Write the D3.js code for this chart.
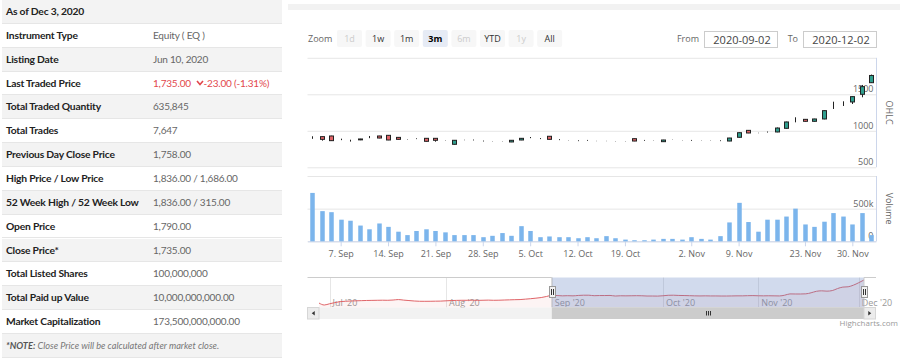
<!DOCTYPE html>
<html>
<head>
<meta charset="utf-8">
<script src="https://cdn.jsdelivr.net/npm/d3@7"></script>
<style>
  body { margin: 0; width: 900px; height: 362px; overflow: hidden; background: #fff; position: relative; }
  #info { position: absolute; left: 2px; top: 0; width: 280px; height: 358px; font-family: Lato, sans-serif; }
  #info .row { position: absolute; left: 0; width: 280px; height: 23.85px; line-height: 23.85px; border-bottom: 1px solid #e6e6e6; box-sizing: border-box; }
  #info .row.alt { background: #f3f3f3; }
  #info .lbl { position: absolute; left: 4px; font-weight: 700; font-size: 10.3px; letter-spacing: -0.2px; color: #222; white-space: nowrap; }
  #info .val { position: absolute; left: 151px; font-size: 10px; letter-spacing: -0.2px; color: #666; white-space: nowrap; }
  #info .neg { color: #e2474c; }
  #info .note { position: absolute; left: 4px; font-style: italic; font-size: 9.2px; color: #777; white-space: nowrap; }
  #info .note b { color: #555; }
  #chart { position: absolute; left: 0; top: 0; }
</style>
</head>
<body>
<div id="info"></div>
<svg id="chart" width="900" height="362"></svg>
<script>
// ---- info table ----
const infoLabels = ['As of Dec 3, 2020', 'Instrument Type', 'Listing Date', 'Last Traded Price',
  'Total Traded Quantity', 'Total Trades', 'Previous Day Close Price', 'High Price / Low Price',
  '52 Week High / 52 Week Low', 'Open Price', 'Close Price*', 'Total Listed Shares',
  'Total Paid up Value', 'Market Capitalization']
const infoValues = ['', 'Equity ( EQ )', 'Jun 10, 2020', '1,735.00', '635,845', '7,647', '1,758.00',
  '1,836.00 / 1,686.00', '1,836.00 / 315.00', '1,790.00', '1,735.00', '100,000,000',
  '10,000,000,000.00', '173,500,000,000.00']
const ltpChange = '-23.00 (-1.31%)'
const noteHead = '*NOTE:'
const noteText = ' Close Price will be calculated after market close.'

// ---- trading days shown in the main chart (Sep 2 – Dec 2, 2020) ----
const tradeDates = ['2020-09-02','2020-09-03','2020-09-06','2020-09-07','2020-09-08','2020-09-09','2020-09-10',
  '2020-09-13','2020-09-14','2020-09-15','2020-09-16','2020-09-17','2020-09-20','2020-09-21','2020-09-22',
  '2020-09-23','2020-09-24','2020-09-27','2020-09-28','2020-09-29','2020-09-30','2020-10-01','2020-10-04',
  '2020-10-05','2020-10-06','2020-10-07','2020-10-08','2020-10-11','2020-10-12','2020-10-13','2020-10-14',
  '2020-10-15','2020-10-18','2020-10-19','2020-10-20','2020-10-21','2020-10-22','2020-10-28','2020-10-29',
  '2020-11-01','2020-11-02','2020-11-03','2020-11-04','2020-11-05','2020-11-08','2020-11-09','2020-11-10',
  '2020-11-11','2020-11-12','2020-11-18','2020-11-19','2020-11-22','2020-11-23','2020-11-24','2020-11-25',
  '2020-11-26','2020-11-29','2020-11-30','2020-12-01','2020-12-02']
const opens  = [893,920,929,874,865,876,901,929,938,910,883,888,897,897,865,815,874,870,856,856,
  851,847,874,901,888,925,874,865,860,865,860,860,856,856,892,865,865,851,879,870,
  865,870,865,860,860,911,1006,970,979,984,1034,1148,1157,1130,1162,1358,1376,1395,1500,1659]
const highs  = [925,922,932,892,878,890,929,931,940,912,886,897,899,899,867,872,877,880,866,858,
  853,872,899,915,900,927,885,867,870,875,862,862,858,858,894,875,867,876,881,872,
  875,872,867,870,903,978,1009,973,990,1045,1125,1185,1160,1165,1280,1399,1404,1470,1628,1770]
const lows   = [890,865,862,872,852,872,899,898,872,880,880,886,853,851,862,812,871,868,854,854,
  849,845,872,899,886,881,872,863,858,863,858,858,854,854,858,863,863,849,877,868,
  863,868,863,858,858,908,968,967,976,980,1030,1116,1127,1127,1158,1299,1340,1367,1459,1655]
const closes = [893,883,865,874,865,888,901,901,874,883,883,888,856,870,865,870,874,870,856,856,
  851,870,897,901,888,883,874,865,860,865,860,860,856,856,860,865,865,874,879,870,
  865,870,865,860,901,974,970,970,979,1038,1121,1148,1130,1162,1276,1358,1376,1468,1605,1758]
const volumes = [741000,462000,446000,331000,315000,241000,184000,273000,221000,147000,
  95000,158000,184000,158000,137000,95000,95000,95000,63000,84000,
  126000,84000,232000,158000,63000,74000,63000,63000,47000,63000,
  47000,79000,47000,26000,16000,16000,26000,37000,37000,26000,
  63000,37000,26000,79000,289000,589000,295000,147000,331000,331000,
  379000,500000,258000,221000,300000,432000,379000,258000,432000,95000]

// ---- earlier closes, only seen in the navigator ----
const navPreDates = ['2020-06-29','2020-06-30','2020-07-01','2020-07-02','2020-07-05','2020-07-06','2020-07-07',
  '2020-07-08','2020-07-09','2020-07-12','2020-07-13','2020-07-14','2020-07-15','2020-07-16','2020-07-19',
  '2020-07-20','2020-07-21','2020-07-22','2020-07-23','2020-07-26','2020-07-27','2020-07-28','2020-07-29',
  '2020-07-30','2020-08-02','2020-08-05','2020-08-06','2020-08-09','2020-08-10','2020-08-11','2020-08-12',
  '2020-08-13','2020-08-16','2020-08-17','2020-08-18','2020-08-19','2020-08-20','2020-08-23','2020-08-24',
  '2020-08-25','2020-08-26','2020-08-27','2020-08-30','2020-08-31']
const navPreCloses = [461,350,420,484,541,560,576,585,595,605,610,615,620,615,630,656,625,600,575,560,
  558,560,565,570,585,600,610,615,615,620,612,618,625,615,620,630,640,650,656,680,705,735,770,830]

const priceTicks  = [500, 1000, 1500, 2000]
const volumeTicks = [0, 500000, 1000000]
const zoomButtons = ['1d', '1w', '1m', '3m', '6m', 'YTD', '1y', 'All']
const disabledButtons = ['1d', '6m', '1y']
const selectedButton = '3m'
const rangeFrom = '2020-09-02'
const rangeTo   = '2020-12-02'

const UP = '#2f9e8e', DOWN = '#e06468', VOL = '#7cb5ec', GRID = '#e6e6e6', AXIS = '#ccd6eb'
const FONT = "'Open Sans', sans-serif"

// ---- table ----
const info = d3.select('#info')
const rowH = 23.85
const allRows = infoLabels.concat(['note'])
const row = info.selectAll('div.row').data(allRows).join('div')
  .attr('class', 'row')
  .classed('alt', (d, i) => i % 2 === 0)
  .style('top', (d, i) => i * rowH + 'px')

row.filter((d, i) => i < infoLabels.length).append('span').attr('class', 'lbl').text(d => d)
row.filter((d, i) => i > 0 && i < infoLabels.length && i !== 3)
  .append('span').attr('class', 'val').text(d => infoValues[infoLabels.indexOf(d)])

const ltp = row.filter((d, i) => i === 3).append('span').attr('class', 'val neg')
ltp.append('span').text(infoValues[3] + '\u00a0\u00a0')
ltp.append('svg').attr('width', 8).attr('height', 6).style('vertical-align', '1px')
  .append('path').attr('d', 'M1,1 L4,4.5 L7,1').attr('fill', 'none').attr('stroke', '#e2474c').attr('stroke-width', 1.6)
ltp.append('span').text(ltpChange)

const note = row.filter((d, i) => i === infoLabels.length).append('span').attr('class', 'note')
note.append('b').text(noteHead)
note.append('span').text(noteText)

// ---- chart ----
const svg = d3.select('#chart').attr('font-family', FONT)
const parse = d3.timeParse('%Y-%m-%d')
const days = tradeDates.map(parse)
const fmtWeek = d3.timeFormat('%-d. %b')
const fmtMonth = d3.timeFormat("%b '%y")

const plotL = 307.5, plotR = 876
const x = d3.scaleLinear().domain([-0.5, days.length - 0.5]).range([plotL, plotR])
const yPrice = d3.scaleLinear().domain([priceTicks[0], priceTicks[priceTicks.length - 1]]).range([167.3, 57.8])
const yVol = d3.scaleLinear().domain([volumeTicks[0], volumeTicks[volumeTicks.length - 1]]).range([241.3, 176])

// top strip of the container
svg.append('rect').attr('x', 288).attr('y', 4).attr('width', 612).attr('height', 6).attr('fill', '#f2f2f2')

// y axes (labels inside plot, right aligned)
function yAxis(scale, ticks, fmt) {
  const g = svg.append('g').attr('transform', `translate(${plotR},0)`)
    .call(d3.axisLeft(scale).tickValues(ticks).tickSize(plotR - plotL).tickPadding(-(plotR - plotL) + 2.5).tickFormat(fmt))
  g.attr('font-family', null).attr('font-size', 9)
  g.select('.domain').remove()
  g.selectAll('.tick line').attr('stroke', GRID)
  g.selectAll('.tick text').attr('dy', null).attr('y', -2.5).attr('fill', '#666')
  svg.append('line').attr('x1', plotR + 0.5).attr('x2', plotR + 0.5)
    .attr('y1', scale.range()[1]).attr('y2', scale.range()[0]).attr('stroke', AXIS)
  return g
}
yAxis(yPrice, priceTicks, d => d === priceTicks[priceTicks.length - 1] ? '' : d)
yAxis(yVol, volumeTicks, d => d === volumeTicks[volumeTicks.length - 1] ? '' : (d === 0 ? '0' : d / 1000 + 'k'))

// axis titles
const titles = [['OHLC', yPrice], ['Volume', yVol]]
titles.forEach(([t, s]) => {
  const cy = (s.range()[0] + s.range()[1]) / 2
  svg.append('text').attr('transform', `translate(886,${cy}) rotate(90)`)
    .attr('text-anchor', 'middle').attr('font-size', 9).attr('fill', '#666').text(t)
})

// x axis: ticks on Mondays
const mondayIdx = days.map((d, i) => i).filter(i => days[i].getDay() === 1)
const gX = svg.append('g').attr('transform', `translate(0,${yVol(0)})`)
  .call(d3.axisBottom(x).tickValues(mondayIdx).tickSize(5).tickSizeOuter(0).tickPadding(4).tickFormat(i => fmtWeek(days[i])))
gX.attr('font-family', null).attr('font-size', 9)
gX.select('.domain').attr('stroke', AXIS)
gX.selectAll('.tick line').attr('stroke', AXIS)
gX.selectAll('.tick text').attr('fill', '#666')

// candles
const cx = i => Math.round(x(i))
const candle = svg.append('g').selectAll('g').data(days.map((d, i) => i)).join('g')
candle.append('line')
  .attr('x1', i => cx(i) + 0.5).attr('x2', i => cx(i) + 0.5)
  .attr('y1', i => yPrice(highs[i])).attr('y2', i => yPrice(lows[i]))
  .attr('stroke', '#222').attr('stroke-width', 1)
candle.append('rect')
  .attr('x', i => cx(i) - 1.5).attr('width', 4)
  .attr('y', i => yPrice(Math.max(opens[i], closes[i])))
  .attr('height', i => Math.abs(yPrice(opens[i]) - yPrice(closes[i])))
  .attr('fill', i => closes[i] > opens[i] ? UP : DOWN)
  .attr('stroke', '#222').attr('stroke-width', 1)

// volume
svg.append('g').selectAll('rect').data(volumes).join('rect')
  .attr('x', (v, i) => cx(i) - 1.75).attr('width', 4.5)
  .attr('y', v => yVol(v)).attr('height', v => yVol(0) - yVol(v))
  .attr('fill', VOL)

// ---- navigator ----
const navDays = navPreDates.map(parse).concat(days)
const navCloses = navPreCloses.concat(closes)
const navTop = 277.5, navBot = 307.5, navL = 319, navR = 864
const navX = d3.scaleLinear().domain([0, navDays.length - 1]).range([navL, navR])
const [cMin, cMax] = d3.extent(navCloses)
const pad = (cMax - cMin) * 0.1
const navY = d3.scaleLinear().domain([cMin - pad, cMax + pad]).range([navBot, navTop])

const monthIdx = navDays.map((d, j) => j).filter(j => j > 0 && navDays[j].getMonth() !== navDays[j - 1].getMonth())
const gN = svg.append('g')
gN.selectAll('line.grid').data(monthIdx).join('line').attr('class', 'grid')
  .attr('x1', j => Math.round(navX(j)) + 0.5).attr('x2', j => Math.round(navX(j)) + 0.5)
  .attr('y1', navTop).attr('y2', navBot).attr('stroke', GRID)
gN.selectAll('text').data(monthIdx).join('text')
  .attr('x', j => navX(j) + 3).attr('y', navBot - 2)
  .attr('font-size', 9).attr('fill', '#999').text(j => fmtMonth(navDays[j]))

const navArea = d3.area().x((c, j) => navX(j)).y0(navBot).y1(c => navY(c)).curve(d3.curveMonotoneX)
const navLine = d3.line().x((c, j) => navX(j)).y(c => navY(c)).curve(d3.curveMonotoneX)
gN.append('path').attr('d', navArea(navCloses)).attr('fill', DOWN).attr('fill-opacity', 0.07)
gN.append('path').attr('d', navLine(navCloses)).attr('fill', 'none').attr('stroke', DOWN).attr('stroke-width', 1)

const zMin = navX(navPreDates.length), zMax = navX(navDays.length - 1)
gN.append('rect').attr('x', zMin).attr('y', navTop).attr('width', zMax - zMin).attr('height', navBot - navTop)
  .attr('fill', 'rgba(102,133,194,0.3)')
gN.append('path')
  .attr('d', `M${plotL},${navTop} H${zMin} V${navBot} H${zMax} V${navTop} H${plotR}`)
  .attr('fill', 'none').attr('stroke', '#cccccc')

// scrollbar
const sbTop = 307.5, sbH = 11.5
svg.append('rect').attr('x', plotL).attr('y', sbTop).attr('width', plotR - plotL).attr('height', sbH).attr('fill', '#f2f2f2')
svg.append('rect').attr('x', zMin).attr('y', sbTop).attr('width', zMax - zMin).attr('height', sbH)
  .attr('fill', '#cccccc')
const rifX = Math.round((zMin + zMax) / 2)
;[-2, 0, 2].forEach(o => svg.append('line').attr('x1', rifX + o + 0.5).attr('x2', rifX + o + 0.5)
  .attr('y1', sbTop + 3.5).attr('y2', sbTop + 8).attr('stroke', '#333'))
;[[plotL, -1], [navR, 1]].forEach(([bx, dir]) => {
  svg.append('rect').attr('x', bx).attr('y', sbTop).attr('width', 11.5).attr('height', sbH)
    .attr('fill', '#ececec').attr('stroke', '#d6d6d6')
  const mx = bx + 5.75
  svg.append('path').attr('d', `M${mx - dir * 1.5},${sbTop + 3.5} L${mx + dir * 1.5},${sbTop + 5.75} L${mx - dir * 1.5},${sbTop + 8} Z`)
    .attr('fill', '#333')
})

// handles
;[zMin, zMax].forEach(hx => {
  const hxr = Math.round(hx) + 0.5
  svg.append('rect').attr('x', hxr - 3).attr('y', 286.5).attr('width', 6).attr('height', 11)
    .attr('fill', '#f2f2f2').attr('stroke', '#999')
  ;[-1, 1].forEach(o => svg.append('line').attr('x1', hxr + o).attr('x2', hxr + o)
    .attr('y1', 289).attr('y2', 295).attr('stroke', '#333'))
})

svg.append('text').attr('x', 898).attr('y', 326).attr('text-anchor', 'end')
  .attr('font-size', 8).attr('fill', '#999').text('Highcharts.com')

// ---- range selector ----
svg.append('text').attr('x', 308).attr('y', 41.5).attr('font-size', 9).attr('fill', '#666').text('Zoom')
const btn = svg.append('g').selectAll('g').data(zoomButtons).join('g')
  .attr('transform', (d, k) => `translate(${337 + k * 28.6},30)`)
btn.append('rect').attr('width', 25).attr('height', 17).attr('rx', 2)
  .attr('fill', d => d === selectedButton ? '#e6ebf5' : '#f7f7f7')
btn.append('text').attr('x', 12.5).attr('y', 11.8).attr('text-anchor', 'middle').attr('font-size', 9)
  .attr('font-weight', d => d === selectedButton ? 700 : 400)
  .attr('fill', d => d === selectedButton ? '#000' : (disabledButtons.includes(d) ? '#cccccc' : '#333'))
  .text(d => d)

const inputs = [['From', rangeFrom, 704], ['To', rangeTo, 803]]
inputs.forEach(([lab, val, bx]) => {
  svg.append('text').attr('x', bx - 5).attr('y', 42).attr('text-anchor', 'end')
    .attr('font-size', 9).attr('fill', '#666').text(lab)
  svg.append('rect').attr('x', bx + 0.5).attr('y', 31.5).attr('width', 73).attr('height', 16)
    .attr('fill', '#fff').attr('stroke', '#cccccc')
  svg.append('text').attr('x', bx + 38).attr('y', 43.5).attr('text-anchor', 'middle')
    .attr('font-size', 11).attr('fill', '#444').text(val)
})
</script>
</body>
</html>
